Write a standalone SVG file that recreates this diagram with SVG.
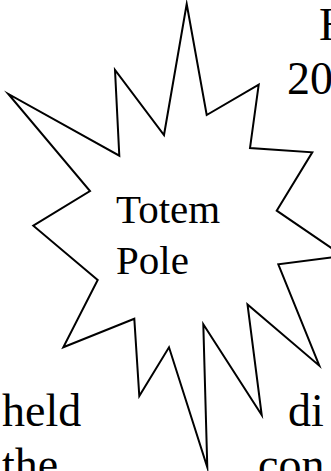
<svg xmlns="http://www.w3.org/2000/svg" width="331" height="471" viewBox="0 0 331 471">
<style>
.t{font-family:"Liberation Serif","Times New Roman",serif;fill:#000}
.body{font-size:46px}
.lbl{font-size:41px}
.star{fill:#fff;stroke:#000;stroke-width:2;stroke-linejoin:miter;stroke-miterlimit:10}
</style>
<rect width="331" height="471" fill="#fff"/>
<g id="text-body">
<text class="t body" x="319" y="40">H</text>
<text class="t body" x="287" y="94">20</text>
<text class="t body" x="2" y="426">held</text>
<text class="t body" x="288" y="426">di</text>
<text class="t body" x="2" y="480">the</text>
<text class="t body" x="258" y="480">con</text>
</g>
<g id="totem-pole">
<polygon class="star" points="186.7,4 206.7,115 258.7,84.7 250,148 312.3,152.3 276.7,210.7 343,256 278.3,264.3 319.3,365.7 247.5,304.5 261.7,415 203.3,324.3 207.3,467.3 169,347.3 139.3,396 134.3,318.7 63.3,347.3 97.7,280 33.3,225.7 90,191 8.3,94 119.3,155.7 115,70 164,135"/>
<text class="t lbl" x="116" y="223">Totem</text>
<text class="t lbl" x="116" y="274">Pole</text>
</g>
<g id="connectors"/>
</svg>
